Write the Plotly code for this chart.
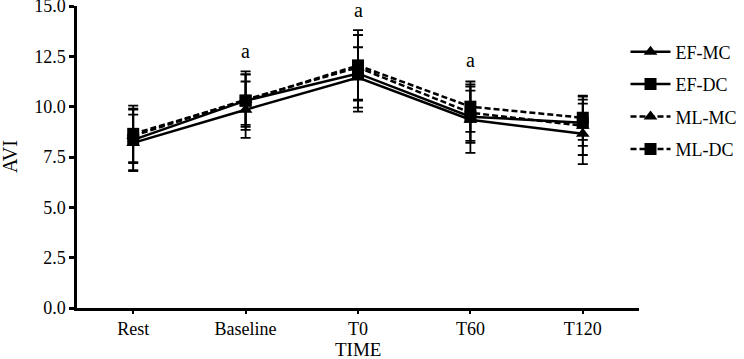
import plotly.graph_objects as go

categories = ["Rest", "Baseline", "T0", "T60", "T120"]

ef_mc = [8.2, 9.85, 11.45, 9.35, 8.65]
ef_dc = [8.35, 10.3, 11.65, 9.5, 9.2]
ml_mc = [8.55, 10.35, 11.95, 9.7, 9.05]
ml_dc = [8.65, 10.3, 12.05, 10.0, 9.45]

ef_mc_sd = [1.4, 1.4, 1.5, 1.65, 1.5]
ef_dc_sd = [1.5, 1.45, 1.9, 1.3, 1.15]
ml_mc_sd = [1.35, 1.25, 1.6, 1.4, 1.45]
ml_dc_sd = [1.4, 1.3, 1.75, 1.25, 1.1]

sig_positions = ["Baseline", "T0", "T60"]
sig_heights = [12.75, 14.8, 12.3]
sig_labels = ["a", "a", "a"]

y_ticks = [0, 2.5, 5, 7.5, 10, 12.5, 15]

series = [
    ("EF-MC", ef_mc, ef_mc_sd, "triangle-up", "solid"),
    ("EF-DC", ef_dc, ef_dc_sd, "square", "solid"),
    ("ML-MC", ml_mc, ml_mc_sd, "triangle-up", "6px,3px"),
    ("ML-DC", ml_dc, ml_dc_sd, "square", "6px,3px"),
]

fig = go.Figure()
for name, vals, sd, sym, dash in series:
    fig.add_trace(go.Scatter(
        x=categories, y=vals, name=name, mode="lines+markers", legendgroup=name,
        line=dict(color="black", width=2.5, dash=dash),
        marker=dict(symbol=sym, size=12, color="black"),
        error_y=dict(type="data", array=sd, visible=True, color="black",
                     thickness=1.8, width=5),
    ))

for xp, yp, lab in zip(sig_positions, sig_heights, sig_labels):
    fig.add_annotation(x=xp, y=yp, text=lab, showarrow=False,
                       font=dict(family="Liberation Serif", size=20, color="black"))

fig.add_annotation(x=0.5, y=-0.136, xref="paper", yref="paper", text="TIME",
                   showarrow=False, yanchor="middle",
                   font=dict(family="Liberation Serif", size=19, color="black"))
fig.add_annotation(x=-0.119, y=0.5, xref="paper", yref="paper", text="AVI",
                   showarrow=False, textangle=-90, xanchor="center",
                   font=dict(family="Liberation Serif", size=20, color="black"))

fig.update_layout(
    width=744, height=359,
    margin=dict(l=77, r=105, t=6, b=51, autoexpand=False),
    paper_bgcolor="white", plot_bgcolor="white",
    font=dict(family="Liberation Serif", size=18, color="black"),
    showlegend=True,
    legend=dict(x=0.976, y=0.909, xanchor="left", yanchor="top",
                font=dict(family="Liberation Serif", size=18, color="black"),
                bgcolor="rgba(0,0,0,0)", tracegroupgap=6, itemwidth=40),
)
fig.update_xaxes(
    type="category", range=[-0.5, 4.5], automargin=False,
    showline=True, linecolor="black", linewidth=2.5,
    ticks="outside", ticklen=3, tickwidth=2, tickcolor="black",
    showgrid=False, zeroline=False,
)
fig.update_yaxes(
    range=[0, 15], tickvals=y_ticks, tickformat=".1f", automargin=False,
    ticklabeloverflow="allow",
    showline=True, linecolor="black", linewidth=2.5,
    ticks="outside", ticklen=5, tickwidth=2.5, tickcolor="black",
    showgrid=False, zeroline=False,
)

fig.write_html("out.html",
               config={"displayModeBar": False},
               post_script="document.body.style.margin='0';document.body.style.overflow='hidden';")
